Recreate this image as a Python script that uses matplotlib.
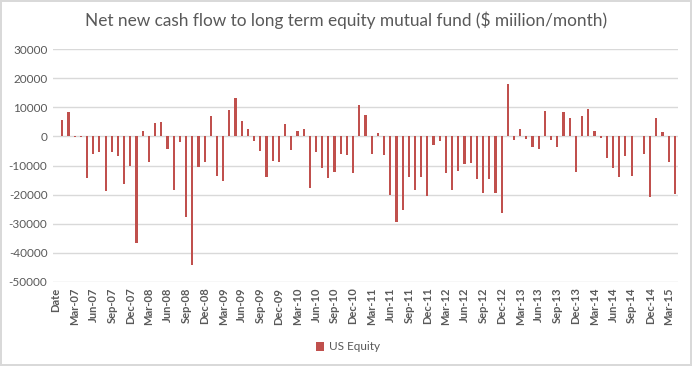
import numpy as np
import pandas as pd
import matplotlib
matplotlib.use("Agg")
import matplotlib.pyplot as plt

plt.rcParams['font.family'] = ['Lato', 'DejaVu Sans']

# categories: header cell "Date" then Jan-07 .. Apr-15
months = ["Date"] + list(pd.date_range("2007-01-01", "2015-04-01", freq="MS").strftime("%b-%y"))

# net new cash flow, US equity ($ million/month)
us_equity = [np.nan,
    5600, 8400, -300, -300, -14200, -6000, -5300, -18700, -5300, -6600, -16300, -10100,
    -36500, 1800, -8700, 4600, 5000, -4200, -18300, -1800, -27600, -44100, -10400, -8700,
    7000, -13500, -15200, 9000, 13200, 5400, 2500, -1500, -4900, -13900, -8400, -8800,
    4200, -4800, 1800, 2500, -17600, -5300, -10800, -14200, -12100, -6000, -6300, -12500,
    10800, 7300, -6000, 1100, -6300, -20000, -29300, -25200, -13900, -18300, -13900, -20400,
    -2900, -1500, -12500, -18300, -11800, -9400, -9000, -14500, -19400, -14500, -19400, -26200,
    18100, -1100, 2600, -800, -3600, -4200, 8700, -1100, -3600, 8400, 6300, -12100,
    7000, 9400, 1800, -500, -7300, -10800, -13900, -6600, -13500, 0, -6000, -20700,
    6300, 1500, -8700, -19700]

yticks = list(range(-50000, 30001, 10000))

fig = plt.figure(figsize=(6.92, 3.66), dpi=100)
fig.patch.set_facecolor("white")
fig.patch.set_edgecolor("#D9D9D9")
fig.patch.set_linewidth(1.5)

ax = fig.add_axes([53/692, 1-282/366, 625/692, 233/366])
x = np.arange(len(months))
ax.bar(x, us_equity, width=0.35, color="#C0504D", label="US Equity", zorder=3)

ax.set_xlim(-0.5, len(months)-0.5)
ax.set_ylim(-50000, 30000)
ax.set_yticks(yticks)
ax.set_yticklabels([str(v) for v in yticks], color="#595959", fontsize=8.5)
ax.grid(axis="y", color="#D9D9D9", linewidth=1, zorder=0)
ax.set_xticks(x[::3])
ax.set_xticklabels(months[::3], rotation=90, fontsize=8, fontweight="bold", color="#595959")
ax.tick_params(length=0, pad=4)
for s in ax.spines.values():
    s.set_visible(False)

fig.text(0.5, 1-20/366, "Net new cash flow to long term equity mutual fund ($ miilion/month)",
         ha="center", va="center", fontsize=12.4, color="#595959")

fig.legend(loc="center", bbox_to_anchor=(0.503, 1-347/366), frameon=False, fontsize=8.5,
           handlelength=0.7, handleheight=0.7, handletextpad=0.4, labelcolor="#595959")

fig.savefig("out.png", dpi=100, facecolor=fig.get_facecolor(), edgecolor=fig.get_edgecolor())
